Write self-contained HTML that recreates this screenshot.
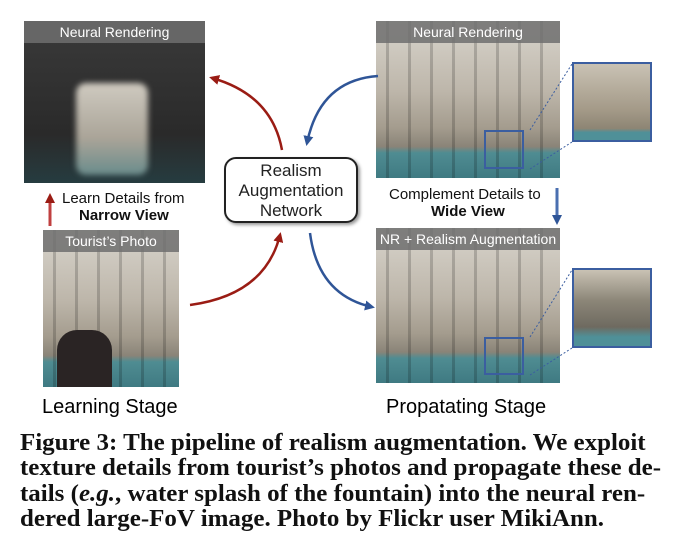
<!DOCTYPE html>
<html><head><meta charset="utf-8"><style>
*{margin:0;padding:0;box-sizing:border-box}
body{width:682px;height:560px;background:#fff;position:relative;overflow:hidden;font-family:"Liberation Sans",sans-serif}
.a{position:absolute}
.hdr{position:absolute;left:0;top:0;right:0;height:22px;background:rgba(110,110,110,.85);color:#fff;font-size:14px;text-align:center;line-height:22px;white-space:nowrap}
.fac{background:
 repeating-linear-gradient(90deg,rgba(0,0,0,.0) 0 10px,rgba(0,0,0,.18) 10px 13px,rgba(0,0,0,0) 13px 22px),
 linear-gradient(180deg,#d8d4cc 0%,#bdb6aa 45%,#a49c8e 68%,#8a8478 80%,#4f8c92 84%,#3f7a82 100%)}
.cap{position:absolute;left:20px;font-family:"Liberation Serif",serif;font-weight:bold;font-size:24px;line-height:26px;color:#111;white-space:nowrap;transform:scaleX(1.04);transform-origin:0 0}
.lbl{font-size:15px;color:#111;white-space:nowrap}
</style></head><body>
<div class="a" style="left:24px;top:21px;width:181px;height:162px;background:linear-gradient(180deg,#3a3a3a,#2a2a2a 70%,#263c40)">
 <div class="a" style="left:52px;top:62px;width:72px;height:92px;border-radius:10px;background:linear-gradient(180deg,#cfcac0,#aaa498 60%,#6a8c8c);filter:blur(3px)"></div>
 <div class="hdr">Neural Rendering</div>
</div>
<div class="a fac" style="left:43px;top:230px;width:136px;height:157px">
 <div class="a" style="left:14px;top:100px;width:55px;height:57px;background:#2a2424;border-radius:20px 20px 0 0"></div>
 <div class="hdr">Tourist’s Photo</div>
</div>
<div class="a fac" style="left:376px;top:21px;width:184px;height:157px">
 <div class="hdr">Neural Rendering</div>
 <div class="a" style="left:108px;top:109px;width:40px;height:39px;border:2px solid #3b5ea0"></div>
</div>
<div class="a" style="left:572px;top:62px;width:80px;height:80px;border:2px solid #3b5ea0;background:linear-gradient(180deg,#c9c2b4,#a49a88 60%,#8d8574 85%,#4f9098 90%)"></div>
<div class="a fac" style="left:376px;top:228px;width:184px;height:155px">
 <div class="hdr">NR + Realism Augmentation</div>
 <div class="a" style="left:108px;top:109px;width:40px;height:38px;border:2px solid #3b5ea0"></div>
</div>
<div class="a" style="left:572px;top:268px;width:80px;height:80px;border:2px solid #3b5ea0;background:linear-gradient(180deg,#c9c2b4,#8c8678 40%,#6e6a60 75%,#4f9098 88%)"></div>
<svg class="a" style="left:0;top:0" width="682" height="420">
 <defs>
  <marker id="r" markerWidth="10" markerHeight="10" refX="7" refY="5" orient="auto" markerUnits="userSpaceOnUse"><path d="M0,0 L10,5 L0,10z" fill="#9a1c14"/></marker>
  <marker id="b" markerWidth="10" markerHeight="10" refX="7" refY="5" orient="auto" markerUnits="userSpaceOnUse"><path d="M0,0 L10,5 L0,10z" fill="#2f5597"/></marker>
 </defs>
 <g fill="none" stroke-width="2.5">
  <path d="M282,150 Q272,95 212,78" stroke="#9a1c14" marker-end="url(#r)"/>
  <path d="M190,305 Q265,295 280,235" stroke="#9a1c14" marker-end="url(#r)"/>
  <path d="M378,76 Q320,80 307,143" stroke="#2f5597" marker-end="url(#b)"/>
  <path d="M310,233 Q318,295 372,307" stroke="#2f5597" marker-end="url(#b)"/>
 </g>
 <line x1="50" y1="226" x2="50" y2="196" stroke="#c04040" stroke-width="3" marker-end="url(#r)"/>
 <line x1="557" y1="188" x2="557" y2="222" stroke="#4a6fb0" stroke-width="3" marker-end="url(#b)"/>
 <line x1="530" y1="130" x2="572" y2="64" stroke="#3b5ea0" stroke-dasharray="2,2"/>
 <line x1="530" y1="169" x2="572" y2="142" stroke="#3b5ea0" stroke-dasharray="2,2"/>
 <line x1="530" y1="337" x2="572" y2="270" stroke="#3b5ea0" stroke-dasharray="2,2"/>
 <line x1="530" y1="375" x2="572" y2="348" stroke="#3b5ea0" stroke-dasharray="2,2"/>
</svg>
<div class="a" style="left:224px;top:157px;width:134px;height:66px;border:2px solid #222;border-radius:12px;box-shadow:2px 2px 3px #999;text-align:center;font-size:17px;line-height:20px;padding-top:2px;color:#222;background:#fff">Realism<br>Augmentation<br>Network</div>
<div class="a lbl" style="left:62px;top:190px">Learn Details from</div>
<div class="a lbl" style="left:79px;top:207px;font-weight:bold">Narrow View</div>
<div class="a lbl" style="left:389px;top:186px">Complement Details to</div>
<div class="a lbl" style="left:431px;top:203px;font-weight:bold">Wide View</div>
<div class="a" style="left:42px;top:396px;font-size:20px">Learning Stage</div>
<div class="a" style="left:386px;top:396px;font-size:20px">Propatating Stage</div>
<div class="cap" style="top:430px">Figure 3: The pipeline of realism augmentation. We exploit</div>
<div class="cap" style="top:455px">texture details from tourist’s photos and propagate these de-</div>
<div class="cap" style="top:481px">tails (<i>e.g.</i>, water splash of the fountain) into the neural ren-</div>
<div class="cap" style="top:506px">dered large-FoV image. Photo by Flickr user MikiAnn.</div>
</body></html>
